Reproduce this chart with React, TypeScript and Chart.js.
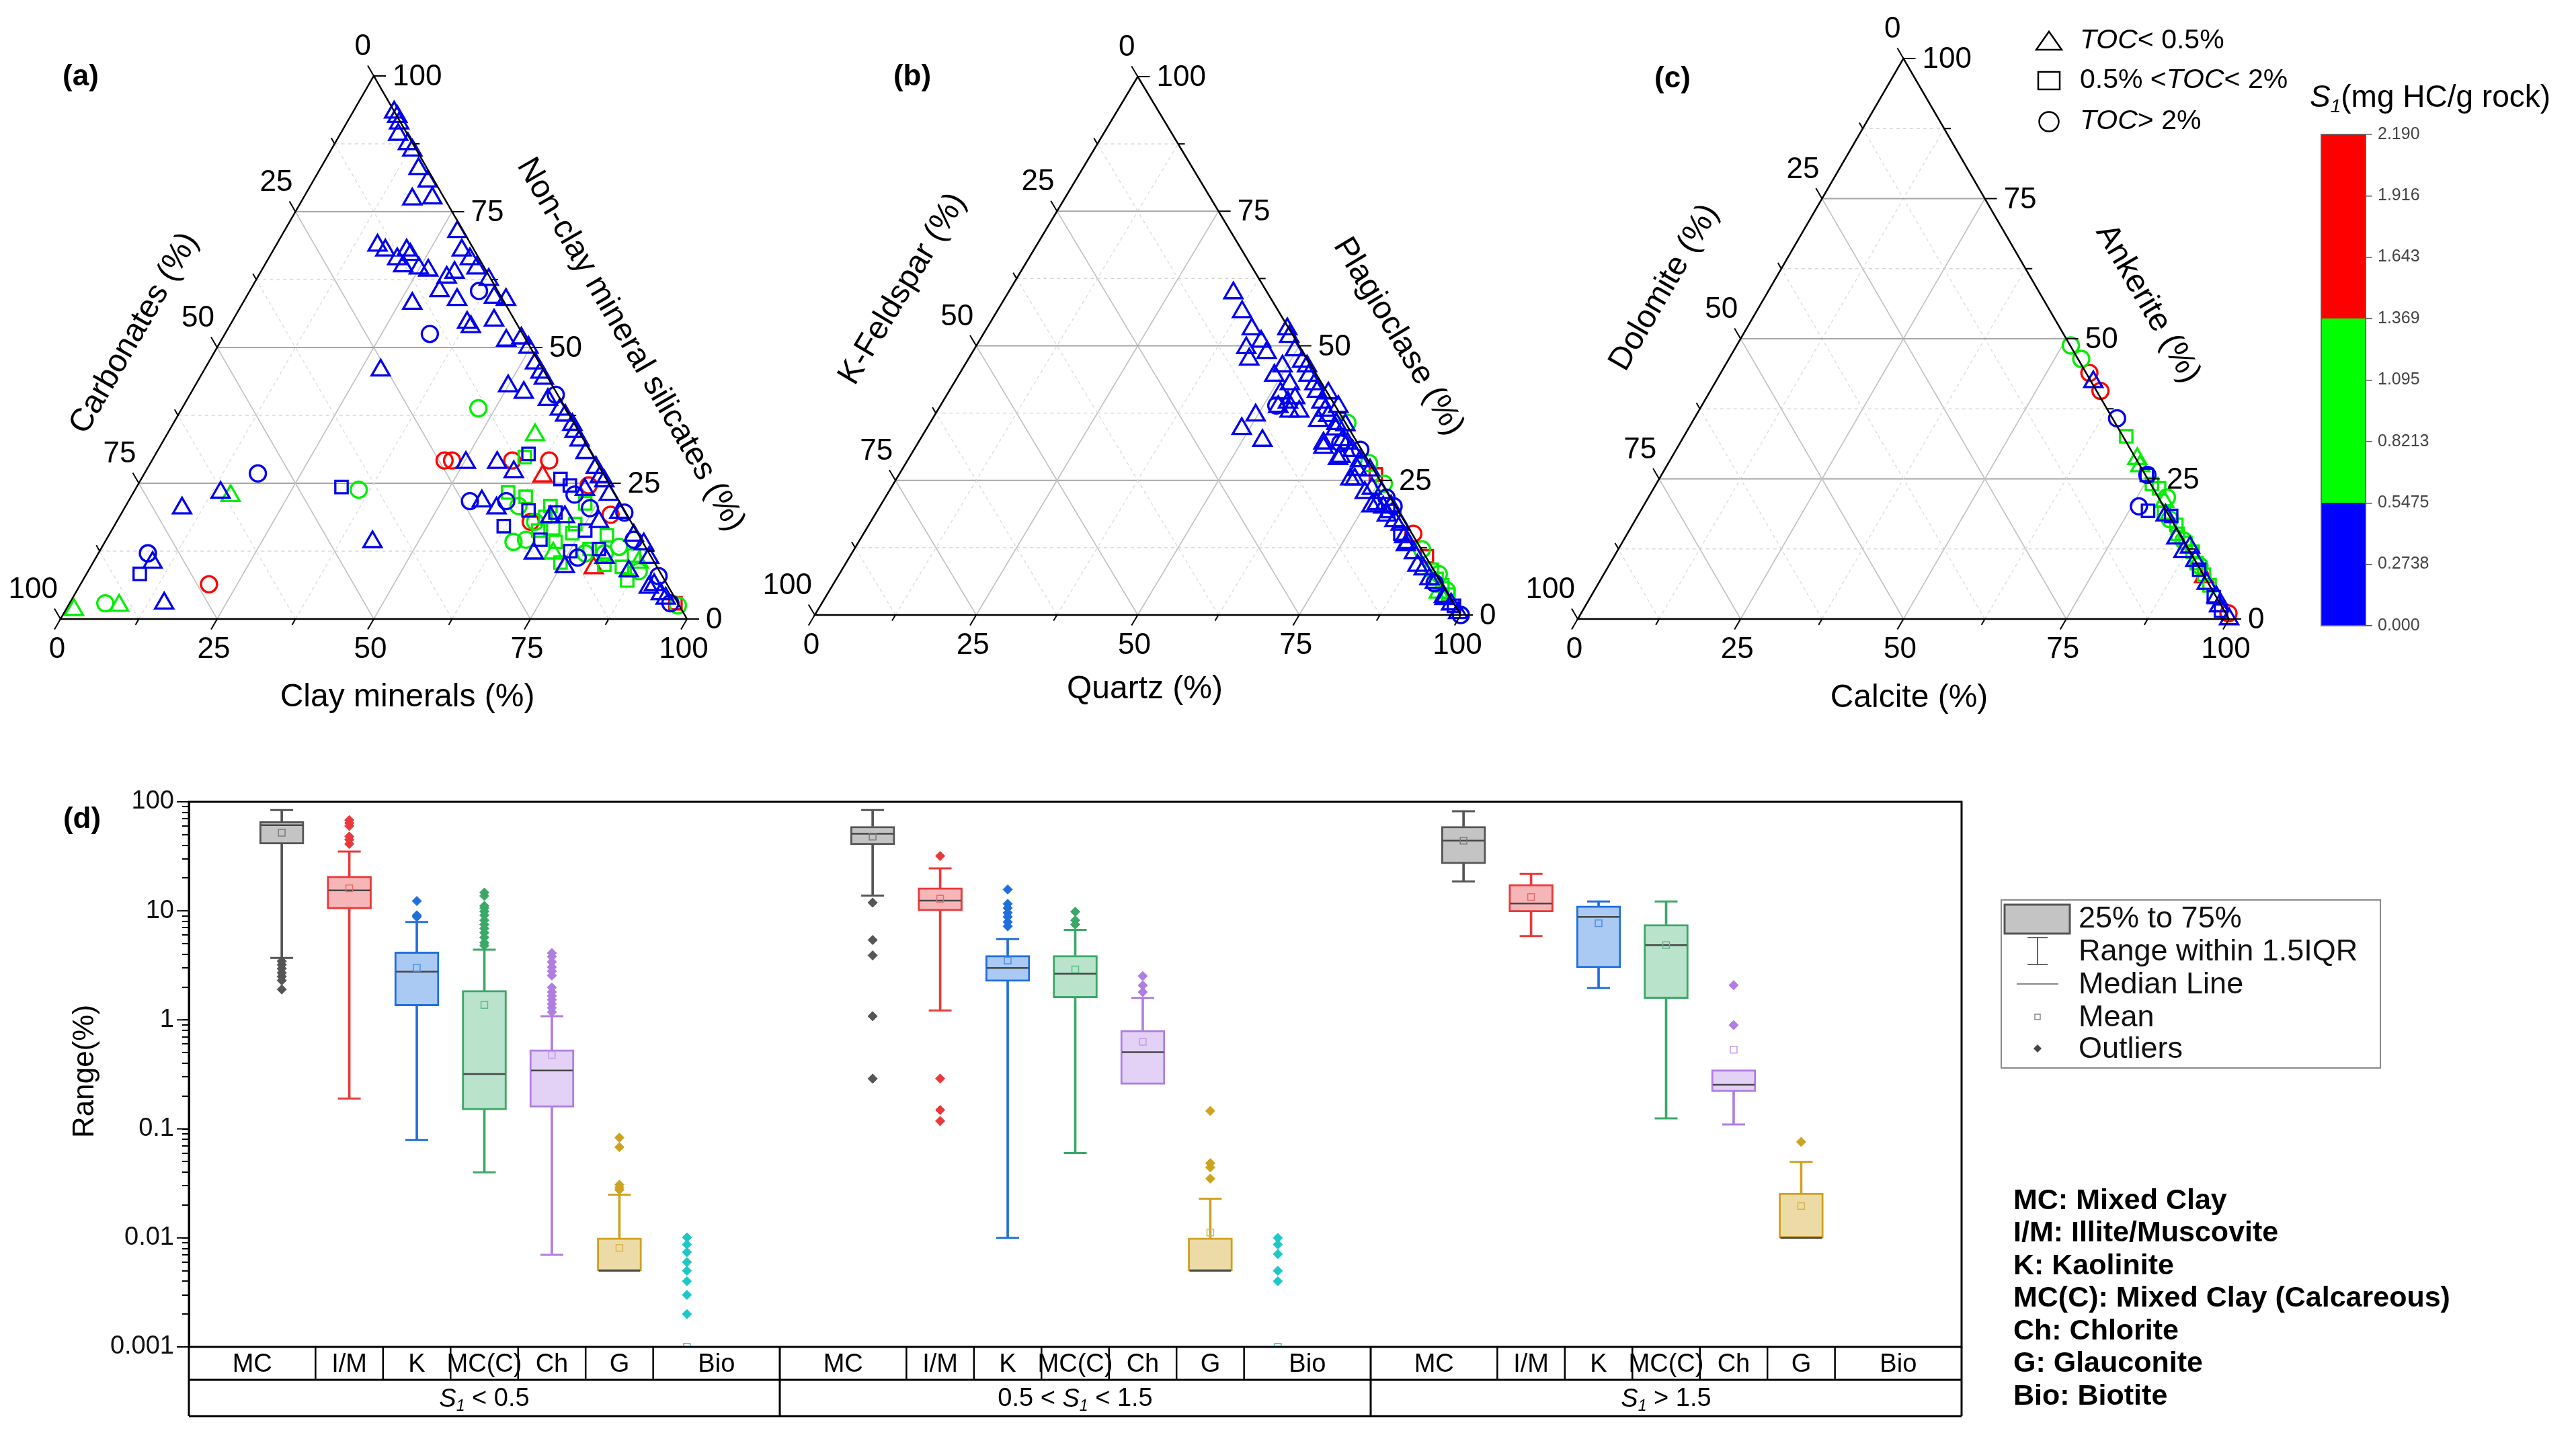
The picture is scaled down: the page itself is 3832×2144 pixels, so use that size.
import React, { useEffect, useRef } from 'react';
import { Chart, registerables } from 'chart.js';

Chart.register(...registerables);

const FONT = '"Liberation Sans", Arial, Helvetica, sans-serif';
Chart.defaults.font.family = FONT;

type Pt = [number, number];

// ================= Ternary data: [bottom-axis %, right-axis %] =================
// (a) bottom = Clay minerals, right = Non-clay mineral silicates, left = Carbonates
const aTriBlue: Pt[] = [
  [6.6, 93.3], [7.5, 92.5], [8.4, 91.3], [9.3, 89.2], [11.7, 87.5], [13, 86.3], [15.7, 82.9], [18.3, 80.6], [17.5, 77.3], [20.6, 77.5],
  [16.2, 68.8], [17.9, 67.9], [20.6, 66.3], [21.3, 67.9], [22.3, 67.1], [22.2, 65], [24.9, 64.6], [26.6, 64.2], [30.3, 60.4], [30.2, 62.9],
  [31, 63.8], [27.7, 71.3], [30.1, 67.9], [32.2, 66.3], [34.1, 64.6], [33.9, 58.8], [27.1, 58.1], [37.1, 62.5], [39.6, 59.2], [41.7, 58.8],
  [37.6, 54.6], [38.6, 53.8], [41.7, 55], [45.5, 51.3], [47.7, 51.7], [49.7, 50], [28.2, 45.8], [50, 42.9], [53.1, 41.7], [53.9, 45.4],
  [57.6, 40.4], [61.8, 37.5], [63.8, 35.8], [66.4, 32.9], [71.5, 27.9], [74.1, 25.4], [52.2, 47.1], [55, 44.3], [60.4, 38.6], [64.8, 34.5],
  [68.5, 30.6], [73, 26.2], [50.3, 28.8], [55.3, 28.8], [58.8, 27.1], [56.4, 21.7], [59.4, 20.4], [75.7, 9.6], [69.5, 12.1], [13.9, 23.3],
  [9.2, 20.4], [9.5, 10.4], [15.1, 2.9], [42.7, 14.2], [79.4, 19.6], [83.8, 15.4], [88.3, 11.3], [91.6, 6.3], [94.7, 3.8], [76.1, 22.9],
  [68.8, 18.8], [81.2, 11.3], [77, 17.9], [86.2, 13.8], [86.3, 8.8], [91, 5.8], [93.5, 4.6], [71.1, 18.8], [71.8, 23.8],
];
const aTriGreen: Pt[] = [[58.8, 33.9], [15.8, 22.7], [1.3, 1.7], [8.1, 2.5], [72.6, 12.1], [87.1, 10.4]];
const aTriRed: Pt[] = [[63.8, 26.3], [80.4, 9.4]];
const aSqBlue: Pt[] = [
  [32.7, 24.3], [8.5, 8.3], [59.5, 30.4], [66.9, 25.8], [62.2, 17.1], [64.7, 20], [69.3, 14.6], [75.1, 12.5], [69.2, 19.6], [75.6, 16.3],
  [79.5, 12.9], [69, 24.6],
];
const aSqGreen: Pt[] = [
  [59.2, 29.8], [59.8, 23.3], [63, 22.5], [67.8, 20.8], [68, 18.8], [70.3, 16.7], [71.9, 14.2], [73.4, 17.5], [73.1, 21.3], [73.8, 15.8],
  [79.5, 15.4], [78, 12.9], [81.8, 10], [84.8, 9.6], [85.7, 11.7], [86.9, 7.1], [74.6, 10.4], [68.1, 16.3],
];
const aSqRed: Pt[] = [[96.7, 2.9]];
const aCirBlue: Pt[] = [
  [36.6, 60.4], [32.7, 52.5], [58.4, 41.3], [18.1, 26.8], [7.9, 12.1], [54.5, 21.7], [60.3, 21.7], [70.6, 22.9], [74.3, 20.4], [80.2, 19.6],
  [84.2, 14.6], [91.5, 7.9], [95.9, 2.9], [76.9, 11.3],
];
const aCirGreen: Pt[] = [
  [47.3, 38.8], [35.7, 23.8], [5.7, 2.9], [65.2, 14.2], [67, 14.6], [62.7, 20.8], [80.8, 12.1], [82.5, 13.3], [87.9, 8.8], [97.3, 2.5],
  [77.7, 12.1], [66.8, 17.9],
];
const aCirRed: Pt[] = [[46.7, 29.2], [47.9, 29.2], [57.5, 29.2], [63.4, 29.2], [72, 24.6], [78.2, 19.2], [20.5, 6.4], [66.1, 17.9]];

// (b) bottom = Quartz, right = Plagioclase, left = K-Feldspar
const bTriBlue: Pt[] = [
  [34.9, 59.8], [38, 56.3], [41.1, 53.1], [43.7, 50.8], [42, 49.6], [43.5, 47.5], [45.6, 48.7], [46.6, 53.1], [47.6, 51.7], [49.7, 49.2],
  [49.3, 46.2], [48.9, 44.5], [52.1, 42.9], [51.5, 41.2], [54.2, 40.3], [52.4, 38.7], [54.6, 37.8], [49.7, 37.1], [48.8, 34.6], [53.1, 32.4],
  [53.1, 46.2], [55.9, 42.9], [58.7, 39.5], [59.9, 36.1], [61, 37], [63.4, 34.5], [62.8, 31.9], [66.7, 29.4], [66.5, 31.9], [70.1, 28.6],
  [71, 25.2], [73.8, 22.7], [76.7, 20.6], [79.3, 18.5], [82.3, 16.8], [85.1, 13.4], [88.7, 9.2], [91.8, 6.7], [95.7, 3.4], [99.4, 0.4],
  [51.9, 47.1], [54.2, 44.5], [61.7, 38.7], [64.5, 35.3], [72.5, 26.9], [76.4, 22.7], [79.1, 20.2], [56.1, 37.8], [58.9, 41.2], [53.5, 39.5],
  [57, 41.5], [60, 38], [63, 35.5], [65.5, 32.5], [68, 30.5], [70.5, 27], [74.5, 23.5], [78, 20], [81, 17.5], [84, 14.5],
  [87, 11.5], [90, 8.5], [93, 6], [96, 3], [97.5, 2], [63.2, 31.1], [66.5, 29], [70.3, 25.2], [76.1, 20.2], [85, 13],
];
const bCirBlue: Pt[] = [[52, 38.9], [65.4, 31.9], [69.1, 30.7], [77.6, 21.8], [79.5, 20.2], [93, 5.9], [100, 0]];
const bSqBlue: Pt[] = [[79.1, 19.3], [83.1, 15.1], [98.1, 1.7]];
const bCirGreen: Pt[] = [[71.7, 28.2], [75.9, 24.4], [87.9, 12.2], [92.8, 7.6], [95.5, 4.6], [64.6, 35.7]];
const bSqGreen: Pt[] = [[92.9, 6.7], [94.4, 5.5], [96.2, 3.8], [91.3, 8.4]];
const bTriGreen: Pt[] = [[94.5, 4.2]];
const bSqRed: Pt[] = [[73.8, 26.1], [89.3, 10.9]];
const bCirRed: Pt[] = [[85.1, 15.1]];

// (c) bottom = Calcite, right = Ankerite, left = Dolomite
const cTriBlue: Pt[] = [[58, 42.3], [84.7, 14.4], [87.6, 12.8], [96.1, 3.9], [97.3, 2.3], [100, 0], [89.6, 10.4], [87, 12], [93.4, 6.3], [81, 18.5]];
const cCirBlue: Pt[] = [[64.9, 35.8], [76.1, 20.1], [74.6, 25.7]];
const cSqBlue: Pt[] = [[74.5, 25.7], [77.9, 19.3], [81.9, 18.4], [95.7, 3.9], [98, 1.5], [91, 8.8]];
const cCirGreen: Pt[] = [[51.3, 48.8], [54.1, 46.4], [79.6, 21.7], [90.7, 9.5], [82, 17.8], [86, 14]];
const cSqGreen: Pt[] = [[67.9, 32.6], [77.6, 23.3], [83.5, 16.8], [88.4, 12], [92.2, 7.9], [86.5, 13.6], [76.1, 24.1], [80.5, 19], [84.5, 15.2], [90, 10], [94, 6]];
const cTriGreen: Pt[] = [[72.7, 27.3], [79.6, 20.9], [71.6, 28.6]];
const cCirRed: Pt[] = [[56.6, 43.9], [59.9, 40.7], [99.4, 1]];
const cTriRed: Pt[] = [[92.4, 7.5]];

const ternTicks = [0, 12.5, 25, 37.5, 50, 62.5, 75, 87.5, 100];
const ternGrid = [12.5, 25, 37.5, 50, 62.5, 75, 87.5];
const ternLabels = [0, 25, 50, 75, 100];

// ================= S1 colour bar =================
const s1Bins: Pt[] = [[0, 0.5475], [0.5475, 1.369], [1.369, 2.19]];
const s1BinColors = ['#0000ff', '#00ff00', '#ff0000'];
const s1Ticks = [0, 0.2738, 0.5475, 0.8213, 1.095, 1.369, 1.643, 1.916, 2.19];
const s1TickLabels = ['0.000', '0.2738', '0.5475', '0.8213', '1.095', '1.369', '1.643', '1.916', '2.190'];
const tocLegend = ['TOC< 0.5%', '0.5% <TOC< 2%', 'TOC> 2%'];

// ================= Box plot data (d) =================
const boxCats = ['MC', 'I/M', 'K', 'MC(C)', 'Ch', 'G', 'Bio'];
const boxGroups = ['S1 < 0.5', '0.5 < S1 < 1.5', 'S1 > 1.5'];
const boxLow = [
  [3.7, 0.19, 0.079, 0.04, 0.007, 0.005, null],
  [13.8, 1.22, 0.01, 0.06, 0.256, 0.005, null],
  [18.6, 5.86, 1.96, 0.125, 0.11, 0.01, null],
];
const boxQ1 = [
  [41, 10.4, 1.34, 0.149, 0.158, 0.005, null],
  [40.4, 10, 2.25, 1.59, 0.256, 0.005, null],
  [27, 9.75, 3.0, 1.57, 0.219, 0.01, null],
];
const boxMedian = [
  [61, 15.4, 2.77, 0.318, 0.343, 0.005, null],
  [51, 12.4, 2.99, 2.65, 0.506, 0.005, null],
  [44, 11.7, 8.8, 4.85, 0.254, 0.01, null],
];
const boxQ3 = [
  [66, 20.8, 4.2, 1.86, 0.533, 0.01, null],
  [59.6, 16.3, 3.9, 3.9, 0.8, 0.01, null],
  [59.6, 17.5, 11.1, 7.5, 0.349, 0.0258, null],
];
const boxHigh = [
  [84, 35, 7.9, 4.4, 1.08, 0.0249, null],
  [84, 24.5, 5.5, 6.7, 1.59, 0.0229, null],
  [82, 21.8, 12.2, 12.2, 0.349, 0.0498, null],
];
const boxMean = [
  [52, 16.1, 3.0, 1.37, 0.477, 0.0081, 0.001],
  [48, 12.9, 3.5, 2.9, 0.628, 0.0112, 0.001],
  [44, 13.4, 7.7, 4.85, 0.533, 0.0196, null],
];
const boxOutliers: number[][][] = [
  [
    [3.45, 3.2, 2.95, 2.7, 2.5, 2.3, 1.9],
    [68, 64, 60, 48, 45, 41],
    [12.3, 9.1, 8.8],
    [14.7, 13.7, 11.1, 10.6, 9.9, 9.1, 8.2, 7.5, 6.9, 6.3, 5.7, 5.1, 4.8],
    [4.1, 3.8, 3.4, 3.05, 2.8, 2.55, 1.98, 1.8, 1.66, 1.53, 1.4, 1.29, 1.18],
    [0.083, 0.068, 0.0307, 0.0289, 0.0276],
    [0.0101, 0.0087, 0.0074, 0.006, 0.005, 0.004, 0.003, 0.002],
  ],
  [
    [11.9, 5.4, 3.9, 1.08, 0.289],
    [31.8, 0.289, 0.149, 0.118],
    [15.7, 11.6, 10.6, 9.6, 8.8, 7.9, 7.2],
    [9.8, 8.2, 7.5],
    [2.52, 2.07, 1.8],
    [0.146, 0.0484, 0.0443, 0.0349],
    [0.01, 0.0087, 0.0071, 0.005, 0.004],
  ],
  [[], [], [], [], [2.08, 0.894], [0.0759], []],
];
const boxYMajor = [0.001, 0.01, 0.1, 1, 10, 100];
const boxYLabels = ['0.001', '0.01', '0.1', '1', '10', '100'];
const boxLegend = ['25% to 75%', 'Range within 1.5IQR', 'Median Line', 'Mean', 'Outliers'];
const abbreviations = [
  'MC: Mixed Clay', 'I/M: Illite/Muscovite', 'K: Kaolinite', 'MC(C): Mixed Clay (Calcareous)',
  'Ch: Chlorite', 'G: Glauconite', 'Bio: Biotite',
];

// ================= styles =================
const BLUE = '#0000f0';
const GREEN = '#00ee00';
const RED = '#ff0000';
const BOX_BORDER = ['#555555', '#e8393b', '#1f6fdc', '#3aa867', '#b07de0', '#cfa21f', '#1fc7c7'];
const BOX_FILL = ['#c4c4c4', '#f6b6b8', '#aac9f3', '#b9e3cb', '#e3d1f6', '#eddba7', '#b5eeee'];
const BOX_MEAN = ['#7a7a7a', '#e86a6c', '#4f8fe6', '#5fbb86', '#c49be8', '#d7b44f', '#1fc7c7'];

type Shape = 'triangle' | 'rect' | 'circle';
const RADIUS: Record<Shape, number> = { triangle: 15.5, rect: 13, circle: 12 };

interface Series { data: Pt[]; shape: Shape; color: string }
interface Panel {
  key: string; left: number; width: number; height: number;
  pad: { left: number; right: number; top: number; bottom: number };
  tag: string; tagPos: Pt;
  bottomTitle: string; bottomPos: Pt;
  leftTitle: string; leftPos: Pt;
  rightTitle: string; rightPos: Pt;
  series: Series[];
}

const panels: Panel[] = [
  {
    key: 'a', left: 0, width: 1140, height: 1100,
    pad: { left: 90, right: 118, top: 113, bottom: 179 },
    tag: '(a)', tagPos: [120, 115],
    bottomTitle: 'Clay minerals (%)', bottomPos: [606, 1038],
    leftTitle: 'Carbonates (%)', leftPos: [200, 496],
    rightTitle: 'Non-clay mineral silicates (%)', rightPos: [938, 513],
    series: [
      { data: aTriBlue, shape: 'triangle', color: BLUE }, { data: aSqBlue, shape: 'rect', color: BLUE }, { data: aCirBlue, shape: 'circle', color: BLUE },
      { data: aTriGreen, shape: 'triangle', color: GREEN }, { data: aSqGreen, shape: 'rect', color: GREEN }, { data: aCirGreen, shape: 'circle', color: GREEN },
      { data: aTriRed, shape: 'triangle', color: RED }, { data: aSqRed, shape: 'rect', color: RED }, { data: aCirRed, shape: 'circle', color: RED },
    ],
  },
  {
    key: 'b', left: 1120, width: 1190, height: 1100,
    pad: { left: 92, right: 137, top: 114, bottom: 185 },
    tag: '(b)', tagPos: [237, 115],
    bottomTitle: 'Quartz (%)', bottomPos: [583, 1026],
    leftTitle: 'K-Feldspar (%)', leftPos: [223, 430],
    rightTitle: 'Plagioclase (%)', rightPos: [960, 501],
    series: [
      { data: bTriBlue, shape: 'triangle', color: BLUE }, { data: bSqBlue, shape: 'rect', color: BLUE }, { data: bCirBlue, shape: 'circle', color: BLUE },
      { data: bTriGreen, shape: 'triangle', color: GREEN }, { data: bSqGreen, shape: 'rect', color: GREEN }, { data: bCirGreen, shape: 'circle', color: GREEN },
      { data: bSqRed, shape: 'rect', color: RED }, { data: bCirRed, shape: 'circle', color: RED },
    ],
  },
  {
    key: 'c', left: 2260, width: 1150, height: 1100,
    pad: { left: 87, right: 94, top: 87, bottom: 179 },
    tag: '(c)', tagPos: [228, 118],
    bottomTitle: 'Calcite (%)', bottomPos: [580, 1039],
    leftTitle: 'Dolomite (%)', leftPos: [216, 428],
    rightTitle: 'Ankerite (%)', rightPos: [935, 452],
    series: [
      { data: cTriBlue, shape: 'triangle', color: BLUE }, { data: cSqBlue, shape: 'rect', color: BLUE }, { data: cCirBlue, shape: 'circle', color: BLUE },
      { data: cTriGreen, shape: 'triangle', color: GREEN }, { data: cSqGreen, shape: 'rect', color: GREEN }, { data: cCirGreen, shape: 'circle', color: GREEN },
      { data: cTriRed, shape: 'triangle', color: RED }, { data: cCirRed, shape: 'circle', color: RED },
    ],
  },
];

// ================= helpers =================
type Seg = { t: string; i?: boolean; sub?: boolean; b?: boolean };

function richSegments(str: string, token: string, italicOnly: boolean): Seg[] {
  const parts = str.split(token);
  const segs: Seg[] = [];
  parts.forEach((p, idx) => {
    if (p) segs.push({ t: p });
    if (idx < parts.length - 1) {
      if (italicOnly) segs.push({ t: token, i: true });
      else { segs.push({ t: token[0], i: true }); segs.push({ t: token.slice(1), i: true, sub: true }); }
    }
  });
  return segs;
}

function drawRich(ctx: CanvasRenderingContext2D, segs: Seg[], x: number, y: number, size: number, align: 'left' | 'center' | 'right', color = '#000') {
  const fontFor = (s: Seg) => `${s.i ? 'italic ' : ''}${s.b ? 'bold ' : ''}${s.sub ? Math.round(size * 0.6) : size}px ${FONT}`;
  const widths = segs.map((s) => { ctx.font = fontFor(s); return ctx.measureText(s.t).width; });
  const total = widths.reduce((a, b) => a + b, 0);
  let cx = align === 'left' ? x : align === 'center' ? x - total / 2 : x - total;
  ctx.save();
  ctx.fillStyle = color;
  ctx.textAlign = 'left';
  ctx.textBaseline = 'middle';
  segs.forEach((s, k) => {
    ctx.font = fontFor(s);
    ctx.fillText(s.t, cx, s.sub ? y + size * 0.28 : y);
    cx += widths[k];
  });
  ctx.restore();
}

function seg(ctx: CanvasRenderingContext2D, p: number[], q: number[]) {
  ctx.beginPath();
  ctx.moveTo(p[0], p[1]);
  ctx.lineTo(q[0], q[1]);
  ctx.stroke();
}

// ================= ternary chart =================
function makeTernaryConfig(p: Panel): any {
  const plugin = {
    id: 'ternary-' + p.key,
    beforeDatasetsDraw(chart: any) {
      const ctx: CanvasRenderingContext2D = chart.ctx;
      const xs = chart.scales.x;
      const ys = chart.scales.y;
      const P = (b: number, r: number) => [xs.getPixelForValue(b + r / 2), ys.getPixelForValue(r)];
      ctx.save();
      for (const v of ternGrid) {
        const major = v % 25 === 0;
        ctx.setLineDash(major ? [] : [5, 5]);
        ctx.strokeStyle = major ? '#a6a6a6' : '#d2d2d2';
        ctx.lineWidth = major ? 2.2 : 1.3;
        seg(ctx, P(0, v), P(100 - v, v));
        ctx.strokeStyle = major ? '#c2c2c2' : '#dadada';
        ctx.lineWidth = major ? 1.6 : 1.3;
        seg(ctx, P(v, 0), P(v, 100 - v));
        seg(ctx, P(100 - v, 0), P(0, 100 - v));
      }
      ctx.restore();
    },
    afterDatasetsDraw(chart: any) {
      const ctx: CanvasRenderingContext2D = chart.ctx;
      const xs = chart.scales.x;
      const ys = chart.scales.y;
      const P = (b: number, r: number) => [xs.getPixelForValue(b + r / 2), ys.getPixelForValue(r)];
      const A = P(0, 100), L = P(0, 0), R = P(100, 0);
      const unit = (a: number[], b: number[]) => { const dx = b[0] - a[0], dy = b[1] - a[1]; const n = Math.hypot(dx, dy); return [dx / n, dy / n]; };
      const dR = [1, 0], dL = unit(R, A), dB = unit(A, L);
      ctx.save();
      ctx.setLineDash([]);
      ctx.strokeStyle = '#000';
      ctx.lineWidth = 2.5;
      ctx.beginPath();
      ctx.moveTo(L[0], L[1]); ctx.lineTo(R[0], R[1]); ctx.lineTo(A[0], A[1]); ctx.closePath();
      ctx.stroke();
      ctx.lineWidth = 2;
      for (const t of ternTicks) {
        const len = t % 25 === 0 ? 18 : 10;
        const pr = P(100 - t, t), pl = P(0, 100 - t), pb = P(t, 0);
        seg(ctx, pr, [pr[0] + dR[0] * len, pr[1] + dR[1] * len]);
        seg(ctx, pl, [pl[0] + dL[0] * len, pl[1] + dL[1] * len]);
        seg(ctx, pb, [pb[0] + dB[0] * len, pb[1] + dB[1] * len]);
      }
      ctx.fillStyle = '#000';
      ctx.font = `44px ${FONT}`;
      ctx.textBaseline = 'middle';
      for (const t of ternLabels) {
        const pr = P(100 - t, t), pl = P(0, 100 - t), pb = P(t, 0);
        ctx.textAlign = 'left';
        ctx.fillText(String(t), pr[0] + 28, pr[1] + 2);
        ctx.textAlign = 'right';
        ctx.fillText(String(t), pl[0] - 4, pl[1] - 43);
        ctx.textAlign = 'center';
        ctx.fillText(String(t), pb[0] - 5, pb[1] + 46);
      }
      ctx.font = `48px ${FONT}`;
      ctx.textAlign = 'center';
      ctx.fillText(p.bottomTitle, p.bottomPos[0], p.bottomPos[1]);
      const rot = (text: string, pos: Pt, ang: number) => {
        ctx.save();
        ctx.translate(pos[0], pos[1]);
        ctx.rotate(ang);
        ctx.fillText(text, 0, 0);
        ctx.restore();
      };
      rot(p.leftTitle, p.leftPos, Math.atan2(A[1] - L[1], A[0] - L[0]));
      rot(p.rightTitle, p.rightPos, Math.atan2(R[1] - A[1], R[0] - A[0]));
      ctx.font = `bold 44px ${FONT}`;
      ctx.fillText(p.tag, p.tagPos[0], p.tagPos[1]);
      ctx.restore();
    },
  };
  return {
    type: 'scatter',
    data: {
      datasets: p.series.map((s) => ({
        data: s.data.map(([b, r]) => ({ x: b + r / 2, y: r })),
        pointStyle: s.shape,
        pointRadius: RADIUS[s.shape],
        pointBorderColor: s.color,
        pointBackgroundColor: 'rgba(0,0,0,0)',
        pointBorderWidth: 3.3,
        borderColor: s.color,
        clip: false,
      })),
    },
    options: {
      responsive: false,
      maintainAspectRatio: false,
      animation: false,
      events: [],
      layout: { padding: p.pad },
      plugins: { legend: { display: false }, tooltip: { enabled: false } },
      scales: {
        x: { type: 'linear', min: 0, max: 100, display: false },
        y: { type: 'linear', min: 0, max: 100, display: false },
      },
    },
    plugins: [plugin],
  };
}

// ================= colour bar + TOC legend =================
function makeColorbarConfig(): any {
  const plugin = {
    id: 'colorbar-deco',
    afterDraw(chart: any) {
      const ctx: CanvasRenderingContext2D = chart.ctx;
      const a = chart.chartArea;
      ctx.save();
      ctx.strokeStyle = '#555';
      ctx.lineWidth = 1.5;
      ctx.strokeRect(a.left, a.top, a.right - a.left, a.bottom - a.top);
      // title
      drawRich(ctx, richSegments('S1(mg HC/g rock)', 'S1', false), 436, 146, 46, 'left', '#000');
      // TOC legend
      const rowsY = [61, 120, 181];
      ctx.strokeStyle = '#000';
      ctx.lineWidth = 2.5;
      const cx = 48;
      ctx.beginPath();
      ctx.moveTo(cx - 19, rowsY[0] + 13); ctx.lineTo(cx + 19, rowsY[0] + 13); ctx.lineTo(cx, rowsY[0] - 14); ctx.closePath();
      ctx.stroke();
      ctx.strokeRect(cx - 16, rowsY[1] - 13, 32, 26);
      ctx.beginPath();
      ctx.arc(cx, rowsY[2], 14.5, 0, Math.PI * 2);
      ctx.stroke();
      tocLegend.forEach((txt, k) => {
        drawRich(ctx, richSegments(txt, 'TOC', true), 94, rowsY[k], 41, 'left', '#000');
      });
      ctx.restore();
    },
  };
  return {
    type: 'bar',
    data: {
      labels: [''],
      datasets: s1Bins.map((bin, k) => ({
        data: [bin],
        backgroundColor: s1BinColors[k],
        borderWidth: 0,
        grouped: false,
        barPercentage: 1,
        categoryPercentage: 1,
      })),
    },
    options: {
      responsive: false,
      maintainAspectRatio: false,
      animation: false,
      events: [],
      layout: { padding: { left: 453, right: 203, top: 200, bottom: 69 } },
      plugins: { legend: { display: false }, tooltip: { enabled: false } },
      scales: {
        x: { display: false },
        y: {
          position: 'right',
          min: 0,
          max: 2.19,
          afterFit: (s: any) => { s.width = 110; },
          afterBuildTicks: (s: any) => { s.ticks = s1Ticks.map((v) => ({ value: v })); },
          ticks: {
            autoSkip: false,
            font: { size: 25 },
            color: '#444',
            padding: 8,
            callback: (_v: any, idx: number) => s1TickLabels[idx],
          },
          grid: { drawOnChartArea: false, drawTicks: true, tickLength: 10, color: '#555', lineWidth: 1.5 },
          border: { display: true, color: '#555', width: 1.5 },
        },
      },
    },
    plugins: [plugin],
  };
}

// ================= box plot =================
const GROUP_SPAN = 8.75;
const FIRST_OFFSET = 1.375;
const X_MAX = 26.25;
const boxPos = (g: number, i: number) => g * GROUP_SPAN + FIRST_OFFSET + i;

function makeBoxConfig(): any {
  const stems: any[] = [], boxes: any[] = [], caps: any[] = [], medians: any[] = [], means: any[] = [], outs: any[] = [];
  for (let g = 0; g < boxGroups.length; g++) {
    for (let i = 0; i < boxCats.length; i++) {
      const x = boxPos(g, i);
      const k = i;
      const lo = boxLow[g][i], q1 = boxQ1[g][i], md = boxMedian[g][i], q3 = boxQ3[g][i], hi = boxHigh[g][i], mn = boxMean[g][i];
      if (q1 != null && q3 != null) boxes.push({ x, y: [q1, q3], k });
      if (lo != null && q1 != null && lo < q1) { stems.push({ x, y: [lo, q1], k }); caps.push({ x, y: lo, k }); }
      if (hi != null && q3 != null && hi > q3) { stems.push({ x, y: [q3, hi], k }); caps.push({ x, y: hi, k }); }
      if (md != null) medians.push({ x, y: md, k });
      if (mn != null) means.push({ x, y: mn, k });
      for (const o of boxOutliers[g][i]) outs.push({ x, y: o, k });
    }
  }
  const col = (arr: string[]) => (c: any) => (c.raw && c.raw.k != null ? arr[c.raw.k] : '#000');

  const plugin = {
    id: 'box-deco',
    afterDraw(chart: any) {
      const ctx: CanvasRenderingContext2D = chart.ctx;
      const a = chart.chartArea;
      const xs = chart.scales.x;
      const ys = chart.scales.y;
      ctx.save();
      ctx.strokeStyle = '#000';
      ctx.lineWidth = 3;
      ctx.strokeRect(a.left, a.top, a.right - a.left, a.bottom - a.top);
      ctx.lineWidth = 2;
      for (const v of boxYMajor) {
        const y = ys.getPixelForValue(v);
        seg(ctx, [a.left - 18, y], [a.left, y]);
      }
      const r1 = a.bottom + 49;
      const r2 = a.bottom + 103;
      ctx.lineWidth = 3;
      seg(ctx, [a.left, r1], [a.right, r1]);
      seg(ctx, [a.left, r2], [a.right, r2]);
      seg(ctx, [a.left, a.bottom], [a.left, r2]);
      seg(ctx, [a.right, a.bottom], [a.right, r2]);
      for (let g = 1; g < boxGroups.length; g++) {
        const x = xs.getPixelForValue(g * GROUP_SPAN);
        seg(ctx, [x, a.bottom], [x, r2]);
      }
      ctx.lineWidth = 2.5;
      for (let g = 0; g < boxGroups.length; g++) {
        for (let i = 0; i < boxCats.length - 1; i++) {
          const x = xs.getPixelForValue(boxPos(g, i) + 0.5);
          seg(ctx, [x, a.bottom], [x, r1]);
        }
      }
      ctx.fillStyle = '#000';
      ctx.font = `38px ${FONT}`;
      ctx.textAlign = 'center';
      ctx.textBaseline = 'middle';
      for (let g = 0; g < boxGroups.length; g++) {
        for (let i = 0; i < boxCats.length; i++) {
          let cx = xs.getPixelForValue(boxPos(g, i));
          if (i === boxCats.length - 1) cx = (xs.getPixelForValue(boxPos(g, i) - 0.5) + xs.getPixelForValue((g + 1) * GROUP_SPAN)) / 2;
          if (i === 0) cx = (xs.getPixelForValue(g * GROUP_SPAN) + xs.getPixelForValue(boxPos(g, i) + 0.5)) / 2;
          ctx.fillText(boxCats[i], cx, (a.bottom + r1) / 2 + 2);
        }
        const gx = (xs.getPixelForValue(g * GROUP_SPAN) + xs.getPixelForValue((g + 1) * GROUP_SPAN)) / 2;
        drawRich(ctx, richSegments(boxGroups[g], 'S1', false), gx, (r1 + r2) / 2 + 2, 38, 'center', '#000');
      }
      ctx.save();
      ctx.translate(127, 444);
      ctx.rotate(-Math.PI / 2);
      ctx.font = `44px ${FONT}`;
      ctx.fillText('Range(%)', 0, 0);
      ctx.restore();
      ctx.font = `bold 44px ${FONT}`;
      ctx.fillText('(d)', 122, 70);

      // legend box
      ctx.strokeStyle = '#8a8a8a';
      ctx.lineWidth = 2;
      ctx.strokeRect(2977, 189, 564, 250);
      const ly = [216, 265, 314, 363, 410];
      ctx.fillStyle = '#c4c4c4';
      ctx.fillRect(2982, 196, 97, 43);
      ctx.strokeStyle = '#555';
      ctx.lineWidth = 3;
      ctx.strokeRect(2982, 196, 97, 43);
      ctx.lineWidth = 2;
      ctx.strokeStyle = '#666';
      seg(ctx, [3031, ly[1] - 20], [3031, ly[1] + 20]);
      seg(ctx, [3016, ly[1] - 20], [3046, ly[1] - 20]);
      seg(ctx, [3016, ly[1] + 20], [3046, ly[1] + 20]);
      ctx.strokeStyle = '#888';
      seg(ctx, [3000, ly[2]], [3062, ly[2]]);
      ctx.lineWidth = 1.5;
      ctx.strokeRect(3027, ly[3] - 4, 8, 8);
      ctx.fillStyle = '#444';
      ctx.beginPath();
      ctx.moveTo(3031, ly[4] - 6); ctx.lineTo(3037, ly[4]); ctx.lineTo(3031, ly[4] + 6); ctx.lineTo(3025, ly[4]); ctx.closePath();
      ctx.fill();
      ctx.fillStyle = '#111';
      ctx.textAlign = 'left';
      ctx.font = `45px ${FONT}`;
      boxLegend.forEach((t, k) => ctx.fillText(t, 3092, ly[k] + 2));
      ctx.fillStyle = '#000';
      ctx.font = `bold 43px ${FONT}`;
      abbreviations.forEach((t, k) => ctx.fillText(t, 2995, 637 + k * 48.5));
      ctx.restore();
    },
  };

  return {
    type: 'bar',
    data: {
      datasets: [
        { type: 'bar', data: stems, backgroundColor: col(BOX_BORDER), borderWidth: 0, barThickness: 3, grouped: false, order: 6 },
        { type: 'bar', data: boxes, backgroundColor: col(BOX_FILL), borderColor: col(BOX_BORDER), borderWidth: 3, borderSkipped: false, barThickness: 66, grouped: false, order: 5 },
        { type: 'scatter', data: caps, pointStyle: 'line', pointRadius: 17, pointBorderWidth: 3, pointBorderColor: col(BOX_BORDER), order: 4 },
        { type: 'scatter', data: medians, pointStyle: 'line', pointRadius: 31, pointBorderWidth: 2.5, pointBorderColor: '#464646', order: 3 },
        { type: 'scatter', data: means, pointStyle: 'rect', pointRadius: 7, pointBorderWidth: 1.5, pointBorderColor: col(BOX_MEAN), pointBackgroundColor: 'rgba(0,0,0,0)', order: 2 },
        { type: 'scatter', data: outs, pointStyle: 'rectRot', pointRadius: 7, pointBorderWidth: 1, pointBorderColor: col(BOX_BORDER), pointBackgroundColor: col(BOX_BORDER), order: 1 },
      ],
    },
    options: {
      responsive: false,
      maintainAspectRatio: false,
      animation: false,
      events: [],
      layout: { padding: { left: 0, right: 914, top: 43, bottom: 140 } },
      plugins: { legend: { display: false }, tooltip: { enabled: false } },
      scales: {
        x: { type: 'linear', min: 0, max: X_MAX, display: false, offset: false },
        y: {
          type: 'logarithmic',
          min: 0.001,
          max: 100,
          afterFit: (s: any) => { s.width = 281; },
          afterBuildTicks: (s: any) => {
            const t: any[] = [];
            boxYMajor.forEach((m, idx) => {
              t.push({ value: m, major: true });
              if (idx < boxYMajor.length - 1) for (let j = 2; j <= 9; j++) t.push({ value: m * j, major: false });
            });
            s.ticks = t;
          },
          ticks: {
            autoSkip: false,
            font: { size: 38 },
            color: '#111',
            padding: 12,
            callback: (v: number) => {
              const idx = boxYMajor.findIndex((m) => Math.abs(m - v) / m < 1e-6);
              return idx >= 0 ? boxYLabels[idx] : '';
            },
          },
          grid: { drawOnChartArea: false, drawTicks: true, tickLength: 10, color: '#000', lineWidth: 2 },
          border: { display: true, color: '#000', width: 3 },
        },
      },
    },
    plugins: [plugin],
  };
}

// ================= React =================
function ChartCanvas({ left, top, width, height, build }: { left: number; top: number; width: number; height: number; build: () => any }) {
  const ref = useRef<HTMLCanvasElement>(null);
  useEffect(() => {
    if (!ref.current) return;
    const chart = new Chart(ref.current, build());
    return () => chart.destroy();
  }, []);
  return (
    <canvas
      ref={ref}
      width={width}
      height={height}
      style={{ position: 'absolute', left, top, width, height }}
    />
  );
}

export default function App() {
  return (
    <div style={{ position: 'fixed', left: 0, top: 0, width: 3832, height: 2144, background: '#ffffff', overflow: 'hidden' }}>
      {panels.map((p) => (
        <ChartCanvas key={p.key} left={p.left} top={0} width={p.width} height={p.height} build={() => makeTernaryConfig(p)} />
      ))}
      <ChartCanvas left={3000} top={0} width={832} height={1000} build={makeColorbarConfig} />
      <ChartCanvas left={0} top={1150} width={3832} height={994} build={makeBoxConfig} />
    </div>
  );
}
